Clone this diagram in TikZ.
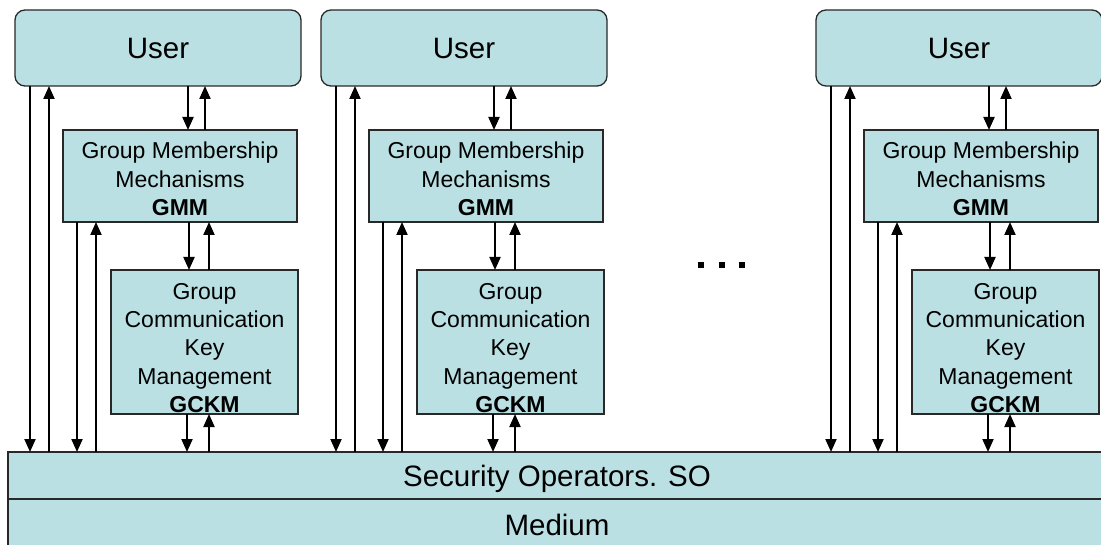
\documentclass[tikz,border=0pt]{standalone}
\usepackage{fontspec}
\setmainfont{Liberation Sans}
\usetikzlibrary{arrows.meta,calc}
\definecolor{boxfill}{RGB}{186,224,227}
\definecolor{boxline}{RGB}{40,40,40}

\begin{document}
\begin{tikzpicture}[x=1pt,y=-1pt,
  box/.style={draw=boxline, line width=1.3pt, fill=boxfill, inner sep=0pt, outer sep=0pt},
  bigtext/.style={font=\fontsize{29.5}{34}\selectfont},
  userbox/.style={box, bigtext, rounded corners=10pt, minimum width=286pt, minimum height=76pt, text height=21pt, text depth=0pt},
  gmmbox/.style={box, minimum width=234pt, minimum height=92pt},
  gckmbox/.style={box, minimum width=187pt, minimum height=144pt},
  lbl/.style={align=center, inner sep=0pt, anchor=north, font=\fontsize{23}{28.3}\selectfont},
  arr/.style={line width=2pt, -{Triangle[length=13pt,width=11pt]}},
]
\useasboundingbox (0,0) rectangle (1101,545);

% shared layers at the bottom
\node[box, bigtext, minimum width=1098pt, minimum height=72pt, text height=12pt, text depth=12pt] (medium) at (557,535) {Medium};
\node[box, bigtext, minimum width=1098pt, minimum height=47pt, text height=21pt, text depth=0pt] (so) at (557,475.5) {Security Operators. SO};

% one protocol stack per user
\foreach \i/\cx in {1/15, 2/321, 3/816} {
  \node[userbox] (user\i) at (\cx+143,48) {User};
  \node[gmmbox] (gmm\i) at (\cx+165,176) {};
  \node[lbl] (gmmt\i) at ($(gmm\i.north)+(0,12)$) {Group Membership\\Mechanisms\\\textbf{GMM}};
  \node[gckmbox] (gckm\i) at (\cx+189.5,342) {};
  \node[lbl] (gckmt\i) at ($(gckm\i.north)+(0,13)$) {Group\\Communication\\Key\\Management\\\textbf{GCKM}};

  % vertical positions of the connectors
  \coordinate (ua\i) at ($(user\i.south west)+(15,0)$);
  \coordinate (ub\i) at ($(user\i.south west)+(34,0)$);
  \coordinate (ma\i) at ($(user\i.south west)+(62,0)$);
  \coordinate (mb\i) at ($(user\i.south west)+(81,0)$);
  \coordinate (ug\i) at ($(user\i.south west)+(173,0)$);
  \coordinate (gu\i) at ($(user\i.south west)+(190,0)$);
  \coordinate (gk\i) at ($(user\i.south west)+(174,0)$);
  \coordinate (kg\i) at ($(user\i.south west)+(194,0)$);
  \coordinate (ks\i) at ($(user\i.south west)+(172,0)$);
  \coordinate (sk\i) at ($(user\i.south west)+(194,0)$);

  % User <-> SO
  \draw[arr] (ua\i) -- (ua\i |- so.north);
  \draw[arr] (ub\i |- so.north) -- (ub\i);
  % GMM <-> SO
  \draw[arr] (ma\i |- gmm\i.south) -- (ma\i |- so.north);
  \draw[arr] (mb\i |- so.north) -- (mb\i |- gmm\i.south);
  % User <-> GMM
  \draw[arr] (ug\i) -- (ug\i |- gmm\i.north);
  \draw[arr] (gu\i |- gmm\i.north) -- (gu\i);
  % GMM <-> GCKM
  \draw[arr] (gk\i |- gmm\i.south) -- (gk\i |- gckm\i.north);
  \draw[arr] (kg\i |- gckm\i.north) -- (kg\i |- gmm\i.south);
  % GCKM <-> SO
  \draw[arr] (ks\i |- gckm\i.south) -- (ks\i |- so.north);
  \draw[arr] (sk\i |- so.north) -- (sk\i |- gckm\i.south);
}

% ellipsis between the stacks
\foreach \x in {701,722,742}
  \fill (\x-3,262) rectangle (\x+3,268);
\end{tikzpicture}
\end{document}
